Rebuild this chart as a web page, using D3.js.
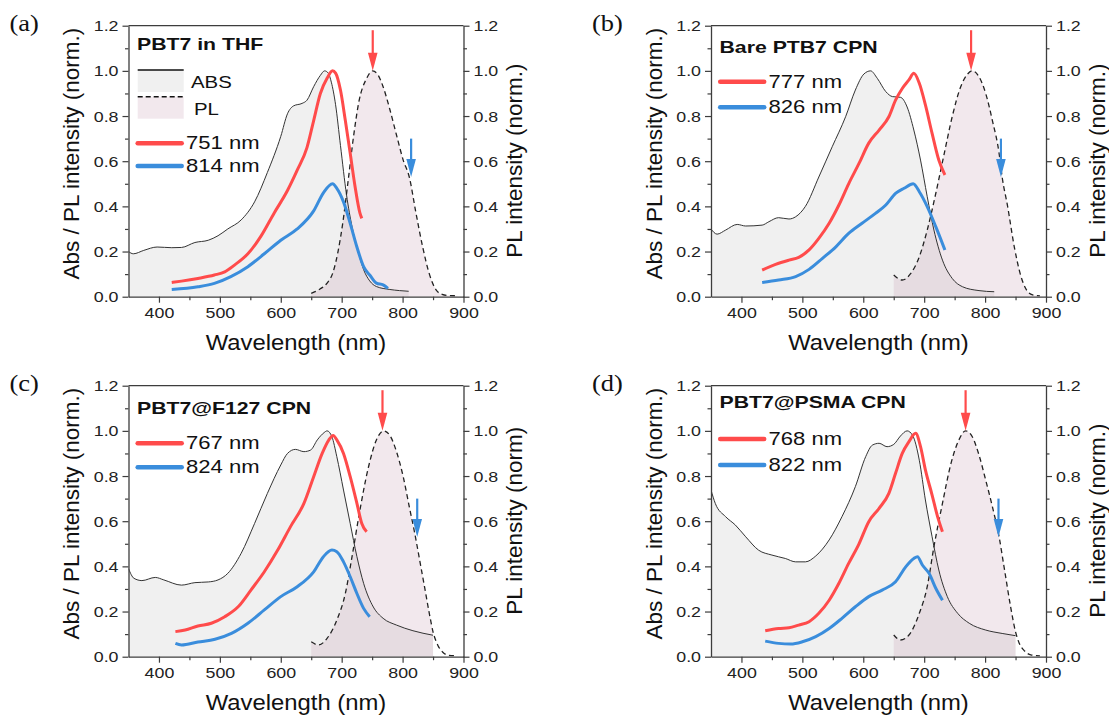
<!DOCTYPE html>
<html>
<head>
<meta charset="utf-8">
<script src="https://cdn.jsdelivr.net/npm/d3@7"></script>
<style>
  body { margin: 0; background: #fff; }
  svg { display: block; font-family: "Liberation Sans", Arial, sans-serif; }
</style>
</head>
<body>
<svg id="chart" width="1109" height="715"></svg>
<script>
// ---- data: [wavelength (nm), normalised value] ----
const absA = [[350,0.20],[358,0.19],[375,0.205],[397,0.22],[421,0.217],[437,0.218],[459,0.24],[481,0.25],[497,0.27],[513,0.30],[535,0.34],[557,0.42],[578,0.55],[600,0.71],[611,0.81],[621,0.845],[635,0.856],[643,0.87],[654,0.93],[665,0.98],[672,1.0],[678,0.99],[683,0.95],[690,0.85],[698,0.67],[708,0.45],[717,0.31],[727,0.20],[736,0.12],[746,0.07],[757,0.045],[779,0.032],[795,0.027],[810,0.024]];
const redA = [[421,0.063],[437,0.069],[464,0.081],[491,0.096],[508,0.11],[524,0.14],[546,0.19],[567,0.266],[589,0.37],[611,0.47],[627,0.56],[643,0.66],[654,0.78],[665,0.90],[676,0.967],[685,1.0],[690,0.99],[698,0.915],[706,0.78],[714,0.635],[722,0.487],[730,0.37],[733,0.347]];
const blueA = [[421,0.032],[464,0.044],[491,0.059],[518,0.089],[546,0.133],[573,0.19],[600,0.25],[627,0.30],[654,0.38],[670,0.46],[685,0.50],[692,0.48],[703,0.42],[714,0.325],[725,0.22],[736,0.133],[746,0.096],[757,0.06],[768,0.052],[776,0.037]];
const plA = [[650,0.015],[665,0.035],[676,0.06],[686,0.11],[694,0.2],[702,0.33],[710,0.5],[720,0.72],[728,0.86],[741,0.967],[751,1.0],[760,0.98],[768,0.93],[779,0.83],[790,0.716],[801,0.605],[811,0.53],[822,0.37],[833,0.22],[844,0.10],[855,0.03],[865,0.01],[875,0.005],[890,0.004]];

const absB = [[350,0.30],[360,0.277],[374,0.295],[393,0.32],[407,0.313],[434,0.317],[445,0.332],[461,0.35],[478,0.344],[489,0.354],[505,0.40],[527,0.53],[549,0.664],[571,0.797],[587,0.915],[601,0.986],[612,1.0],[623,0.967],[637,0.908],[648,0.886],[661,0.883],[672,0.84],[683,0.738],[694,0.605],[705,0.443],[716,0.295],[730,0.162],[746,0.081],[763,0.044],[790,0.027],[815,0.022]];
const redB = [[434,0.118],[456,0.143],[478,0.162],[494,0.174],[511,0.207],[527,0.258],[544,0.325],[560,0.406],[576,0.50],[593,0.59],[609,0.68],[626,0.738],[642,0.797],[653,0.87],[664,0.922],[675,0.96],[683,0.989],[692,0.945],[702,0.849],[713,0.723],[724,0.605],[734,0.539]];
const blueB = [[434,0.063],[461,0.074],[489,0.089],[511,0.121],[533,0.17],[555,0.221],[576,0.28],[598,0.325],[620,0.369],[637,0.406],[653,0.457],[667,0.48],[682,0.50],[692,0.465],[705,0.399],[719,0.31],[734,0.207]];
const plB = [[650,0.096],[664,0.074],[678,0.103],[692,0.177],[705,0.295],[719,0.457],[733,0.635],[746,0.797],[760,0.93],[771,0.985],[779,1.0],[790,0.974],[801,0.90],[812,0.78],[823,0.635],[828,0.53],[837,0.40],[848,0.22],[859,0.089],[868,0.03],[878,0.008],[890,0.004]];

const absC = [[350,0.39],[359,0.347],[372,0.337],[394,0.351],[408,0.34],[437,0.317],[459,0.328],[481,0.331],[497,0.34],[513,0.369],[535,0.458],[557,0.59],[578,0.723],[600,0.849],[611,0.90],[624,0.918],[638,0.908],[649,0.915],[660,0.96],[671,0.992],[676,1.0],[684,0.974],[692,0.886],[703,0.738],[714,0.59],[725,0.443],[736,0.325],[752,0.22],[768,0.17],[790,0.14],[817,0.115],[850,0.095]];
const redC = [[427,0.111],[443,0.118],[464,0.136],[486,0.148],[508,0.177],[530,0.221],[551,0.295],[573,0.376],[595,0.472],[616,0.576],[638,0.679],[654,0.797],[668,0.90],[679,0.96],[686,0.98],[692,0.96],[703,0.90],[714,0.797],[725,0.679],[733,0.59],[741,0.553]];
const blueC = [[427,0.059],[437,0.052],[464,0.065],[492,0.077],[519,0.103],[546,0.148],[573,0.207],[600,0.266],[627,0.31],[654,0.376],[670,0.443],[684,0.472],[692,0.465],[703,0.42],[714,0.354],[725,0.28],[736,0.214],[746,0.177]];
const plC = [[650,0.066],[662,0.052],[676,0.081],[692,0.162],[706,0.28],[717,0.443],[730,0.65],[744,0.84],[757,0.96],[769,1.0],[779,0.98],[790,0.908],[801,0.797],[811,0.664],[820,0.546],[828,0.428],[836,0.31],[844,0.19],[850,0.11],[858,0.05],[866,0.02],[876,0.006],[890,0.004]];

const absD = [[350,0.738],[357,0.679],[374,0.62],[390,0.583],[407,0.531],[428,0.472],[450,0.45],[472,0.435],[489,0.42],[505,0.42],[522,0.446],[544,0.517],[565,0.62],[587,0.753],[604,0.886],[615,0.937],[626,0.945],[639,0.93],[650,0.94],[661,0.977],[672,1.0],[681,0.98],[692,0.87],[702,0.694],[713,0.531],[724,0.384],[738,0.266],[755,0.192],[774,0.148],[801,0.118],[828,0.103],[850,0.093]];
const redD = [[439,0.115],[461,0.125],[478,0.128],[494,0.14],[511,0.155],[527,0.192],[544,0.25],[560,0.325],[576,0.413],[593,0.50],[609,0.598],[626,0.657],[642,0.723],[653,0.812],[664,0.90],[675,0.952],[686,0.989],[694,0.93],[702,0.827],[713,0.716],[722,0.62],[730,0.553]];
const blueD = [[439,0.069],[461,0.059],[481,0.056],[500,0.066],[522,0.089],[544,0.125],[565,0.17],[587,0.221],[609,0.266],[631,0.295],[653,0.332],[670,0.399],[683,0.435],[689,0.443],[697,0.406],[708,0.369],[719,0.303],[730,0.25]];
const plD = [[650,0.096],[661,0.074],[675,0.096],[692,0.192],[705,0.31],[716,0.487],[730,0.679],[744,0.856],[757,0.96],[768,1.0],[779,0.974],[790,0.893],[801,0.782],[812,0.664],[823,0.531],[831,0.40],[842,0.22],[850,0.11],[856,0.06],[865,0.025],[875,0.008],[890,0.004]];

const panelLetters = ["(a)", "(b)", "(c)", "(d)"];
const panelTitles = ["PBT7 in THF", "Bare PTB7 CPN", "PBT7@F127 CPN", "PBT7@PSMA CPN"];
const redPeaks = [751, 777, 767, 768];   // nm, legend + red arrow
const bluePeaks = [814, 826, 824, 822];  // nm, legend + blue arrow
const plFillRange = [[650, 890], [650, 890], [650, 850], [650, 850]];
const rightTitles = ["PL intensity (norm.)", "PL intensity (norm.)", "PL intensity (norm)", "PL intensity (norm.)"];
const xMajor = [400, 500, 600, 700, 800, 900];
const xMinor = [450, 550, 650, 750, 850];
const yMajor = [0, 0.2, 0.4, 0.6, 0.8, 1.0, 1.2];
const yMinor = [0.1, 0.3, 0.5, 0.7, 0.9, 1.1];

//layout
const W = 335, H = 271;
const origins = [[128.5, 25.7], [711, 25.7], [128.5, 385.7], [711, 385.7]];
// legend offsets inside plot: title baseline, red line y, blue line y
const legendPos = [[24.3, 117.6, 140.3], [27.6, 56, 81.6], [28.6, 57.6, 81.6], [22.6, 53.3, 79.3]];

const RED = "#ff4b4b", BLUE = "#3a8ddc", AXIS = "#3d3d3d";
const ABS_FILL = "#f0f0f0", PL_FILL = "rgb(190,140,165)", PL_OP = 0.2;

const svg = d3.select("#chart");

const panels = panelLetters.map((letter, i) => ({
  letter, title: panelTitles[i],
  abs: [absA, absB, absC, absD][i],
  red: [redA, redB, redC, redD][i],
  blue: [blueA, blueB, blueC, blueD][i],
  pl: [plA, plB, plC, plD][i],
  redNm: redPeaks[i], blueNm: bluePeaks[i],
  plFill: plFillRange[i], rightTitle: rightTitles[i],
  origin: origins[i], legend: legendPos[i], absLegend: i === 0
}));

//text with a horizontal stretch, like the source figure
function sText(sel, x, y, str, size, sx, opts = {}) {
  const t = sel.append("text")
    .attr("transform", `translate(${x},${y}) scale(${sx},1)` + (opts.rotate ? " rotate(-90)" : ""))
    .attr("font-size", size)
    .attr("fill", opts.fill || "#111")
    .text(str);
  if (opts.anchor) t.attr("text-anchor", opts.anchor);
  if (opts.weight) t.attr("font-weight", opts.weight);
  if (opts.family) t.attr("font-family", opts.family);
  return t;
}

function styleAxis(g, sx) {
  g.select(".domain").attr("stroke", AXIS).attr("stroke-width", 1.3);
  g.selectAll(".tick line").attr("stroke", AXIS).attr("stroke-width", 1.2);
  g.selectAll(".tick text")
    .attr("font-size", 15.5)
    .attr("fill", "#222")
    .attr("font-family", "Liberation Sans, Arial, sans-serif")
    .each(function () {
      const t = d3.select(this);
      const xv = t.attr("x");
      if (xv !== null) t.attr("x", +xv / sx);
      t.attr("transform", `scale(${sx},1)`);
    });
}

panels.forEach((p, i) => {
  const [ox, oy] = p.origin;
  const g = svg.append("g").attr("transform", `translate(${ox},${oy})`);
  const x = d3.scaleLinear().domain([350, 900]).range([0, W]);
  const y = d3.scaleLinear().domain([0, 1.2]).range([H, 0]);

  g.append("clipPath").attr("id", "clip" + i)
    .append("rect").attr("width", W).attr("height", H);
  const plot = g.append("g").attr("clip-path", `url(#clip${i})`);

  const line = d3.line().x(d => x(d[0])).y(d => y(d[1])).curve(d3.curveMonotoneX);
  const area = d3.area().x(d => x(d[0])).y0(H).y1(d => y(d[1])).curve(d3.curveMonotoneX);

  //fills
  plot.append("path").datum(p.abs).attr("d", area).attr("fill", ABS_FILL);
  const plPart = p.pl.filter(d => d[0] >= p.plFill[0] && d[0] <= p.plFill[1]);
  plot.append("path").datum(plPart).attr("d", area)
    .attr("fill", PL_FILL).attr("fill-opacity", PL_OP);

  //spectra
  plot.append("path").datum(p.abs).attr("d", line)
    .attr("fill", "none").attr("stroke", "#333").attr("stroke-width", 1);
  plot.append("path").datum(p.pl).attr("d", line)
    .attr("fill", "none").attr("stroke", "#222").attr("stroke-width", 1.3)
    .attr("stroke-dasharray", "5,3.5");
  plot.append("path").datum(p.blue).attr("d", line)
    .attr("fill", "none").attr("stroke", BLUE).attr("stroke-width", 3);
  plot.append("path").datum(p.red).attr("d", line)
    .attr("fill", "none").attr("stroke", RED).attr("stroke-width", 3);

  //arrows
  const arrows = [
    { nm: p.redNm, top: 1.18, tip: 1.0, color: RED },
    { nm: p.blueNm, top: 0.70, tip: 0.53, color: BLUE }
  ];
  arrows.forEach(a => {
    const ax = x(a.nm), yt = y(a.top), yp = y(a.tip);
    g.append("line").attr("x1", ax).attr("x2", ax).attr("y1", yt).attr("y2", yp - 12)
      .attr("stroke", a.color).attr("stroke-width", 2.2);
    g.append("path")
      .attr("d", `M${ax - 4.8},${yp - 18} L${ax + 4.8},${yp - 18} L${ax},${yp} Z`)
      .attr("fill", a.color);
  });

  //axes
  const gx = g.append("g").attr("transform", `translate(0,${H})`)
    .call(d3.axisBottom(x).tickValues(xMajor).tickSize(6).tickPadding(4).tickSizeOuter(0).tickFormat(d3.format("d")));
  styleAxis(gx, 1.15);
  g.append("g").attr("transform", `translate(0,${H})`)
    .call(d3.axisBottom(x).tickValues(xMinor).tickSize(3.5).tickFormat(""))
    .call(s => { s.select(".domain").remove(); s.selectAll("line").attr("stroke", AXIS).attr("stroke-width", 1.2); });

  const gl = g.append("g")
    .call(d3.axisLeft(y).tickValues(yMajor).tickSize(6).tickPadding(4).tickSizeOuter(0).tickFormat(d3.format(".1f")));
  styleAxis(gl, 1.15);
  g.append("g").call(d3.axisLeft(y).tickValues(yMinor).tickSize(3.5).tickFormat(""))
    .call(s => { s.select(".domain").remove(); s.selectAll("line").attr("stroke", AXIS).attr("stroke-width", 1.2); });

  const gr = g.append("g").attr("transform", `translate(${W},0)`)
    .call(d3.axisRight(y).tickValues(yMajor).tickSize(6).tickPadding(4).tickSizeOuter(0).tickFormat(d3.format(".1f")));
  styleAxis(gr, 1.15);
  g.append("g").attr("transform", `translate(${W},0)`)
    .call(d3.axisRight(y).tickValues(yMinor).tickSize(3.5).tickFormat(""))
    .call(s => { s.select(".domain").remove(); s.selectAll("line").attr("stroke", AXIS).attr("stroke-width", 1.2); });

  g.append("line").attr("x1", 0).attr("x2", W).attr("y1", 0).attr("y2", 0)
    .attr("stroke", AXIS).attr("stroke-width", 1.3);

  //axis titles
  sText(g, W / 2, H + 53, "Wavelength (nm)", 22.5, 1.06, { anchor: "middle" });
  sText(g, -49.5, 128, "Abs / PL intensity (norm.)", 22.5, 1.0, { anchor: "middle", rotate: true });
  sText(g, W + 58.5, 135, p.rightTitle, 22.5, 1.0, { anchor: "middle", rotate: true });

  //panel letter
  sText(svg, ox - 119, oy + 5, p.letter, 23, 1.15, { family: "Liberation Serif, Times New Roman, serif" });

  //title + legend
  const [tY, rY, bY] = p.legend;
  sText(g, 8.5, tY, p.title, 17, 1.25, { weight: "bold" });

  if (p.absLegend) {
    g.append("rect").attr("x", 9.2).attr("y", 44.3).attr("width", 46).attr("height", 22).attr("fill", ABS_FILL);
    g.append("line").attr("x1", 9.2).attr("x2", 55.2).attr("y1", 44.3).attr("y2", 44.3)
      .attr("stroke", "#111").attr("stroke-width", 1.6);
    g.append("rect").attr("x", 9.2).attr("y", 71).attr("width", 46).attr("height", 22)
      .attr("fill", PL_FILL).attr("fill-opacity", PL_OP);
    g.append("line").attr("x1", 9.2).attr("x2", 55.2).attr("y1", 71).attr("y2", 71)
      .attr("stroke", "#111").attr("stroke-width", 1.6).attr("stroke-dasharray", "5,3");
    sText(g, 62.5, 62.6, "ABS", 17, 1.2);
    sText(g, 65.5, 89.3, "PL", 17, 1.2);
  }

  [[rY, RED, p.redNm], [bY, BLUE, p.blueNm]].forEach(([ly, col, nm]) => {
    g.append("line").attr("x1", 9.2).attr("x2", 53.2).attr("y1", ly).attr("y2", ly)
      .attr("stroke", col).attr("stroke-width", 4.5).attr("stroke-linecap", "round");
    sText(g, 57.5, ly + 6, `${nm} nm`, 17.5, 1.26);
  });
});
</script>
</body>
</html>
